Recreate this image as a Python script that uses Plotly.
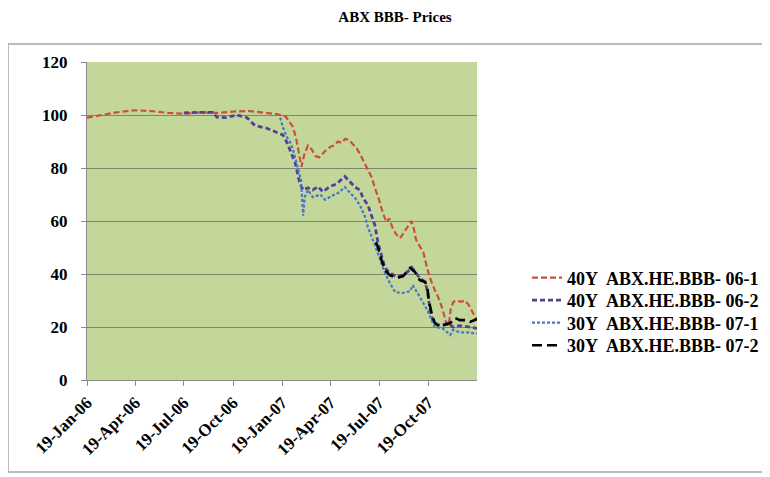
import plotly.graph_objects as go

# ---- data ----
tick_dates = ["2006-01-19", "2006-04-19", "2006-07-19", "2006-10-19",
              "2007-01-19", "2007-04-19", "2007-07-19", "2007-10-19"]
tick_labels = ["19-Jan-06", "19-Apr-06", "19-Jul-06", "19-Oct-06",
               "19-Jan-07", "19-Apr-07", "19-Jul-07", "19-Oct-07"]

s061_dates = ["2006-01-19", "2006-02-15", "2006-03-15", "2006-04-19", "2006-05-19", "2006-06-19",
              "2006-07-19", "2006-08-19", "2006-09-19", "2006-10-19", "2006-11-19", "2006-12-19",
              "2007-01-10", "2007-01-25", "2007-02-01", "2007-02-08", "2007-02-14", "2007-02-20",
              "2007-02-24", "2007-03-01", "2007-03-08", "2007-03-15", "2007-03-22", "2007-03-29",
              "2007-04-05", "2007-04-12", "2007-04-19", "2007-04-26", "2007-05-03", "2007-05-10",
              "2007-05-17", "2007-05-24", "2007-05-31", "2007-06-07", "2007-06-14", "2007-06-21",
              "2007-06-28", "2007-07-05", "2007-07-12", "2007-07-19", "2007-07-26", "2007-08-02",
              "2007-08-07", "2007-08-13", "2007-08-20", "2007-08-27", "2007-09-03", "2007-09-10",
              "2007-09-17", "2007-09-21", "2007-09-26", "2007-10-03", "2007-10-10", "2007-10-17",
              "2007-10-24", "2007-10-31", "2007-11-07", "2007-11-14", "2007-11-21", "2007-11-26",
              "2007-11-30", "2007-12-05", "2007-12-12", "2007-12-19", "2007-12-26", "2008-01-02",
              "2008-01-09", "2008-01-18"]
s061_vals = [99.0, 100.0, 101.0, 101.8, 101.5, 100.8,
             100.5, 101.0, 100.8, 101.3, 101.5, 100.8,
             100.3, 99.5, 97.5, 95.5, 91.0, 84.0,
             80.5, 85.0, 88.5, 87.0, 84.5, 84.0,
             85.5, 87.0, 88.0, 88.5, 90.0, 89.5,
             91.0, 90.5, 89.0, 87.5, 85.0, 82.0,
             79.0, 76.5, 72.0, 68.0, 63.0, 59.5,
             61.0, 57.5, 55.0, 53.5, 55.5, 58.0,
             60.0, 58.0, 53.0, 50.5, 48.0, 42.0,
             37.5, 34.0, 31.0, 27.0, 22.0, 20.5,
             27.0, 29.5, 30.0, 29.5, 30.0, 28.5,
             26.0, 22.5]

s062_dates = ["2006-07-19", "2006-08-01", "2006-08-15", "2006-09-11", "2006-09-19", "2006-10-04",
              "2006-10-26", "2006-11-14", "2006-11-29", "2006-12-21", "2007-01-08", "2007-01-20",
              "2007-01-28", "2007-02-02", "2007-02-12", "2007-02-21", "2007-02-27", "2007-03-08",
              "2007-03-17", "2007-03-27", "2007-04-05", "2007-04-18", "2007-05-01", "2007-05-11",
              "2007-05-16", "2007-05-26", "2007-06-04", "2007-06-13", "2007-06-19", "2007-06-28",
              "2007-07-06", "2007-07-11", "2007-07-17", "2007-07-24", "2007-07-30", "2007-08-08",
              "2007-08-21", "2007-09-02", "2007-09-11", "2007-09-18", "2007-09-24", "2007-10-03",
              "2007-10-13", "2007-10-18", "2007-10-22", "2007-10-28", "2007-11-06", "2007-11-15",
              "2007-11-25", "2007-12-04", "2007-12-17", "2007-12-30", "2008-01-18"]
s062_vals = [100.8, 101.0, 101.0, 101.0, 99.2, 99.0,
             100.0, 99.0, 96.0, 95.0, 93.5, 92.5,
             89.5, 87.0, 82.0, 74.0, 71.7, 72.5,
             71.7, 73.0, 71.0, 73.0, 74.0, 76.0,
             76.8, 74.7, 72.8, 71.7, 68.7, 66.0,
             61.0, 58.5, 51.7, 46.4, 42.3, 40.4,
             39.0, 39.6, 41.0, 42.5, 40.8, 38.5,
             37.0, 33.0, 26.5, 22.0, 20.8, 20.8,
             21.5, 20.0, 20.5, 20.0, 19.5]

s071_dates = ["2007-01-15", "2007-01-20", "2007-01-28", "2007-02-02", "2007-02-08", "2007-02-17",
              "2007-02-23", "2007-02-27", "2007-03-02", "2007-03-08", "2007-03-17", "2007-03-31",
              "2007-04-09", "2007-04-22", "2007-05-03", "2007-05-16", "2007-05-26", "2007-06-04",
              "2007-06-13", "2007-06-23", "2007-06-28", "2007-07-06", "2007-07-11", "2007-07-21",
              "2007-07-30", "2007-08-08", "2007-08-18", "2007-08-31", "2007-09-15", "2007-09-20",
              "2007-09-28", "2007-10-07", "2007-10-17", "2007-10-26", "2007-10-31", "2007-11-14",
              "2007-11-23", "2007-11-29", "2007-12-04", "2007-12-17", "2007-12-30", "2008-01-10",
              "2008-01-18"]
s071_vals = [99.0, 95.5, 91.5, 90.0, 87.0, 80.0,
             75.5, 62.0, 69.0, 71.7, 69.0, 70.0,
             68.0, 69.5, 70.5, 72.8, 70.5, 68.7,
             66.0, 61.5, 57.7, 54.0, 51.0, 45.3,
             40.4, 36.6, 33.2, 32.8, 33.5, 35.8,
             33.2, 30.0, 26.4, 22.6, 20.0, 19.6,
             18.0, 17.0, 18.9, 18.0, 18.0, 17.7,
             17.5]

s072_dates = ["2007-07-13", "2007-07-17", "2007-07-24", "2007-07-30", "2007-08-08", "2007-08-21",
              "2007-09-02", "2007-09-15", "2007-09-24", "2007-10-03", "2007-10-13", "2007-10-17",
              "2007-10-20", "2007-10-26", "2007-10-31", "2007-11-10", "2007-11-19", "2007-11-29",
              "2007-12-08", "2007-12-17", "2007-12-27", "2008-01-05", "2008-01-18"]
s072_vals = [52.0, 50.0, 45.0, 41.5, 39.6, 38.5,
             39.2, 42.3, 40.8, 37.7, 37.0, 35.0,
             30.0, 24.5, 21.5, 20.0, 20.8, 21.5,
             23.4, 22.6, 22.6, 21.9, 23.0]

names = ["40Y&nbsp; ABX.HE.BBB- 06-1", "40Y&nbsp; ABX.HE.BBB- 06-2",
         "30Y&nbsp; ABX.HE.BBB- 07-1", "30Y&nbsp; ABX.HE.BBB- 07-2"]

FONT = "Liberation Serif"

fig = go.Figure()
series = [
    (s061_dates, s061_vals, "#C9503A", "6px,3px", 2.2),
    (s062_dates, s062_vals, "#52409A", "5px,3px", 2.8),
    (s071_dates, s071_vals, "#4477C8", "3px,2px", 2.2),
    (s072_dates, s072_vals, "#000000", "10px,5px", 2.6),
]
legend_ids = ["legend", "legend2", "legend3", "legend4"]
for i, (d, v, c, dash, w) in enumerate(series):
    fig.add_trace(go.Scatter(x=d, y=v, mode="lines", name=names[i],
                             legend=legend_ids[i],
                             line=dict(color=c, dash=dash, width=w)))

legend_font = dict(family=FONT, size=18, color="black", weight="bold")
row_y = [278, 300.5, 323, 345.5]  # screen rows of the legend entries
legends = {}
for i, lid in enumerate(legend_ids):
    legends[lid] = dict(x=(527 - 87) / 390, xanchor="left",
                        y=(380 - row_y[i]) / 318, yanchor="middle",
                        bgcolor="rgba(0,0,0,0)", font=legend_font)

# page body adds an 8px offset; margins compensate so the plot sits at x 87-477, y 62-380
fig.update_layout(
    width=770, height=477,
    margin=dict(l=79, r=301, t=54, b=105),
    paper_bgcolor="white",
    plot_bgcolor="#C4D79B",
    font=dict(family=FONT, size=14, color="black", weight="bold"),
    title=dict(text="ABX BBB- Prices", x=387 / 770, xanchor="center",
               y=1 - 9 / 477, yanchor="middle",
               font=dict(family=FONT, size=15, color="black", weight="bold")),
    showlegend=True,
    xaxis=dict(type="date", range=["2006-01-19", "2008-01-18"],
               tickmode="array", tickvals=tick_dates, ticktext=tick_labels,
               tickangle=-45, showgrid=False, zeroline=False,
               showline=True, linecolor="#8C8C8C", linewidth=1,
               ticks="outside", ticklen=5, tickcolor="#8C8C8C",
               tickfont=dict(family=FONT, size=17, color="black", weight="bold")),
    yaxis=dict(range=[0, 120], tickmode="array", tickvals=[0, 20, 40, 60, 80, 100, 120],
               showgrid=True, gridcolor="#7C8670", gridwidth=1, zeroline=False,
               showline=True, linecolor="#8C8C8C", linewidth=1,
               ticks="outside", ticklen=5, tickcolor="#8C8C8C", ticklabelstandoff=10,
               tickfont=dict(family=FONT, size=17, color="black", weight="bold")),
    shapes=[dict(type="rect", xref="paper", yref="paper",
                 x0=(8 - 87) / 390, x1=(769 - 87) / 390,
                 y0=(380 - 472) / 318, y1=(380 - 44) / 318,
                 line=dict(color="#A6A6A6", width=1.5), fillcolor="rgba(0,0,0,0)", layer="below")],
    **legends,
)

fig.write_html("out.html")
